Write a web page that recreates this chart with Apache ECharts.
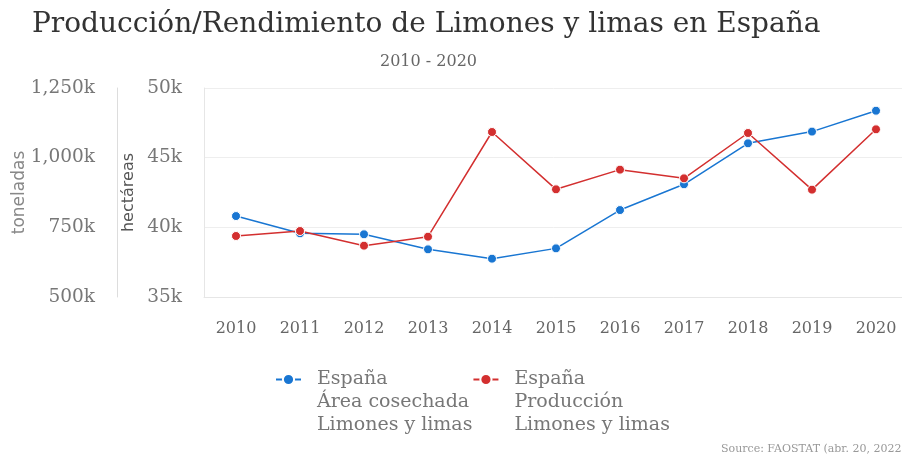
<!DOCTYPE html>
<html>
<head>
<meta charset="utf-8">
<script src="https://cdn.jsdelivr.net/npm/echarts@6/dist/echarts.min.js"></script>
<style>
  html, body { margin: 0; padding: 0; background: #fff; }
  #chart { width: 902px; height: 457px; }
</style>
</head>
<body>
<div id="chart"></div>
<script>
// años
const years = ['2010', '2011', '2012', '2013', '2014', '2015', '2016', '2017', '2018', '2019', '2020']
// área cosechada (ha)
const area = [40810, 39570, 39500, 38420, 37750, 38490, 41240, 43090, 46030, 46870, 48370]
// producción (t)
const produccion = [718900, 736800, 684200, 716500, 1092100, 886400, 957000, 925800, 1088500, 885200, 1101700]

const serif = 'DejaVu Serif'
const sans = 'DejaVu Sans'

const chart = echarts.init(document.getElementById('chart'))
chart.setOption({
  animation: false,
  title: [
    {
      text: 'Producción/Rendimiento de Limones y limas en España',
      left: 27,
      top: 6,
      textStyle: { fontFamily: serif, fontSize: 28, fontWeight: 'normal', color: '#333' },
    },
    {
      text: '2010 - 2020',
      left: 375,
      top: 49,
      textStyle: { fontFamily: serif, fontSize: 16, fontWeight: 'normal', color: '#666' },
    },
    {
      text: 'Source: FAOSTAT (abr. 20, 2022)',
      left: 721,
      top: 444,
      padding: 0,
      textStyle: { fontFamily: serif, fontSize: 11, fontWeight: 'normal', color: '#999' },
    },
  ],
  legend: {
    left: 270,
    top: 317,
    itemGap: 0,
    itemWidth: 25,
    itemHeight: 14,
    formatter: (name) => '\n\n' + name,
    textStyle: {
      fontFamily: serif,
      fontSize: 19,
      color: '#777',
      lineHeight: 23,
      padding: [0, 0, 0, 11],
    },
    data: [
      { name: 'España\nÁrea cosechada\nLimones y limas' },
      { name: 'España\nProducción\nLimones y limas' },
    ],
  },
  grid: { left: 204, right: -6, top: 88, bottom: 160, containLabel: false, outerBoundsMode: 'none' },
  xAxis: {
    type: 'category',
    data: years,
    boundaryGap: true,
    axisLine: { lineStyle: { color: '#e6e6e6' } },
    axisTick: { length: 10, lineStyle: { color: '#e6e6e6' } },
    axisLabel: { fontFamily: serif, fontSize: 16, color: '#666', margin: 24 },
  },
  yAxis: [
    {
      type: 'value',
      position: 'left',
      min: 35000,
      max: 50000,
      interval: 5000,
      name: 'hectáreas',
      nameLocation: 'middle',
      nameGap: 66,
      nameTextStyle: { fontFamily: sans, fontSize: 16, color: '#555' },
      axisLine: { show: true, lineStyle: { color: '#e6e6e6' } },
      axisTick: { show: false },
      splitLine: { lineStyle: { color: '#eeeeee' } },
      axisLabel: {
        fontFamily: serif,
        fontSize: 18.5,
        color: '#777',
        margin: 22,
        formatter: (v) => v / 1000 + 'k',
      },
    },
    {
      type: 'value',
      position: 'left',
      offset: 87,
      min: 500000,
      max: 1250000,
      interval: 250000,
      name: 'toneladas',
      nameLocation: 'middle',
      nameGap: 89,
      nameMoveOverlap: false,
      nameTextStyle: { fontFamily: sans, fontSize: 17, color: '#888' },
      axisLine: { show: true, lineStyle: { color: '#dddddd' } },
      axisTick: { show: false },
      splitLine: { show: false },
      axisLabel: {
        fontFamily: serif,
        fontSize: 18.5,
        color: '#777',
        margin: 22,
        formatter: (v) => (v / 1000).toLocaleString('en-US') + 'k',
      },
    },
  ],
  series: [
    {
      name: 'España\nÁrea cosechada\nLimones y limas',
      type: 'line',
      yAxisIndex: 0,
      data: area,
      color: '#1976d2',
      symbol: 'circle',
      symbolSize: 9,
      lineStyle: { width: 1.5 },
      itemStyle: { borderColor: '#fff', borderWidth: 1 },
    },
    {
      name: 'España\nProducción\nLimones y limas',
      type: 'line',
      yAxisIndex: 1,
      data: produccion,
      color: '#d32f2f',
      symbol: 'circle',
      symbolSize: 9,
      lineStyle: { width: 1.5 },
      itemStyle: { borderColor: '#fff', borderWidth: 1 },
    },
  ],
})
</script>
</body>
</html>
